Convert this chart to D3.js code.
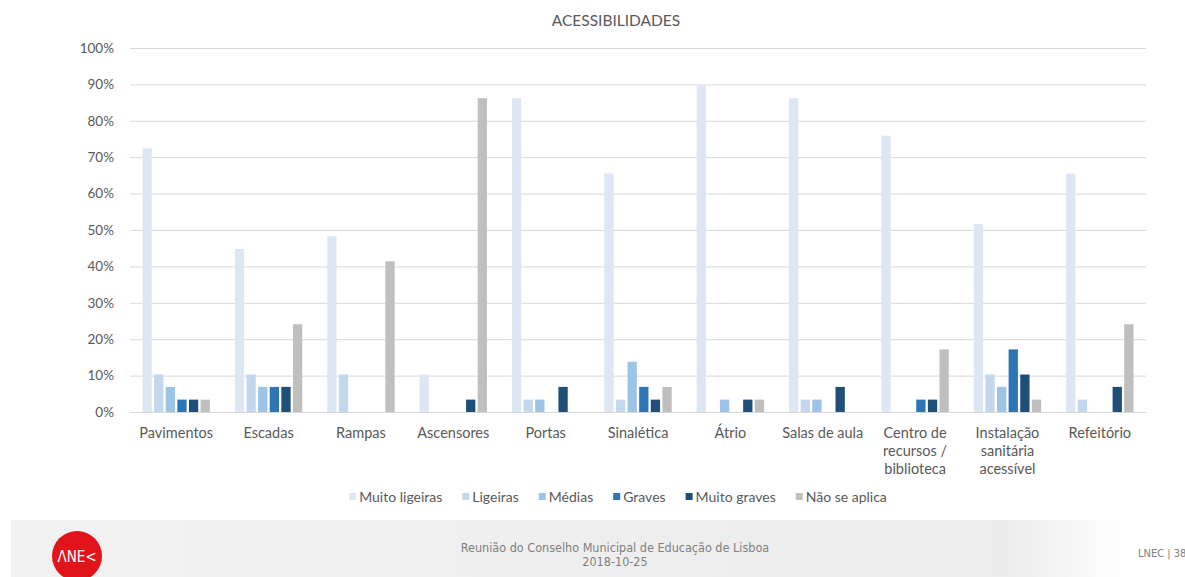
<!DOCTYPE html>
<html>
<head>
<meta charset="utf-8">
<script src="https://cdn.jsdelivr.net/npm/d3@7"></script>
<style>
  html, body { margin: 0; padding: 0; background: #ffffff; }
  svg { display: block; }
</style>
</head>
<body>
<svg id="chart" width="1185" height="577"></svg>
<script>
// ---- data ----
const categories = [
  ["Pavimentos"], ["Escadas"], ["Rampas"], ["Ascensores"], ["Portas"], ["Sinalética"],
  ["Átrio"], ["Salas de aula"], ["Centro de", "recursos /", "biblioteca"],
  ["Instalação", "sanitária", "acessível"], ["Refeitório"]
];
const seriesNames = ["Muito ligeiras", "Ligeiras", "Médias", "Graves", "Muito graves", "Não se aplica"];
const muitoLigeiras = [72.4, 44.8, 48.3, 10.3, 86.2, 65.5, 89.7, 86.2, 75.9, 51.7, 65.5];
const ligeiras      = [10.3, 10.3, 10.3,  0.0,  3.4,  3.4,  0.0,  3.4,  0.0, 10.3,  3.4];
const medias        = [ 6.9,  6.9,  0.0,  0.0,  3.4, 13.8,  3.4,  3.4,  0.0,  6.9,  0.0];
const graves        = [ 3.4,  6.9,  0.0,  0.0,  0.0,  6.9,  0.0,  0.0,  3.4, 17.2,  0.0];
const muitoGraves   = [ 3.4,  6.9,  0.0,  3.4,  6.9,  3.4,  3.4,  6.9,  3.4, 10.3,  6.9];
const naoSeAplica   = [ 3.4, 24.1, 41.4, 86.2,  0.0,  6.9,  3.4,  0.0, 17.2,  3.4, 24.1];
const yTicks = [0, 10, 20, 30, 40, 50, 60, 70, 80, 90, 100];
const chartTitle = "ACESSIBILIDADES";

const seriesValues = [muitoLigeiras, ligeiras, medias, graves, muitoGraves, naoSeAplica];
const colors = ["#dde7f4", "#c3d7ee", "#9dc3e6", "#2e75b6", "#1f4e79", "#bfbfbf"];

// ---- layout ----
const svg = d3.select("#chart");
const plotLeft = 130, plotRight = 1146, plotTop = 48, plotBottom = 412;
const font = "Lato, Carlito, 'Open Sans', sans-serif";
const narrow = "'Liberation Sans Narrow', 'DejaVu Sans Condensed', sans-serif";

const x0 = d3.scaleBand().domain(d3.range(categories.length)).range([plotLeft, plotRight]).paddingInner(0.22).paddingOuter(0.11);
const x1 = d3.scaleBand().domain(d3.range(seriesNames.length)).range([0, x0.bandwidth()]).padding(0.2);
const y = d3.scaleLinear().domain([0, 100]).range([plotBottom, plotTop]);

// title
svg.append("text").attr("x", 616).attr("y", 26).attr("text-anchor", "middle")
  .attr("font-family", font).attr("font-size", 15.5).attr("fill", "#595959").text(chartTitle);

// gridlines + y axis
const yAxis = d3.axisLeft(y).tickValues(yTicks).tickSize(-(plotRight - plotLeft)).tickFormat(d => d + "%");
const gy = svg.append("g").attr("transform", `translate(${plotLeft},0)`).call(yAxis);
gy.select(".domain").remove();
gy.selectAll(".tick line").attr("stroke", "#d9d9d9").attr("stroke-width", 1);
gy.selectAll(".tick text").attr("x", -16).attr("font-family", font).attr("font-size", 13.5).attr("fill", "#595959");

// bars
const groups = svg.append("g").selectAll("g").data(categories).join("g")
  .attr("transform", (d, i) => `translate(${x0(i)},0)`);
groups.selectAll("rect").data((d, i) => seriesValues.map((s, k) => ({k, v: s[i]})))
  .join("rect")
  .attr("x", d => x1(d.k))
  .attr("width", x1.bandwidth())
  .attr("y", d => y(d.v))
  .attr("height", d => y(0) - y(d.v))
  .attr("fill", d => colors[d.k]);

// x axis baseline
svg.append("line").attr("x1", plotLeft).attr("x2", plotRight).attr("y1", plotBottom + 0.5).attr("y2", plotBottom + 0.5)
  .attr("stroke", "#d9d9d9");

// category labels
const xAxis = d3.axisBottom(x0).tickSize(0).tickFormat("");
const gx = svg.append("g").attr("transform", `translate(0,${plotBottom})`).call(xAxis);
gx.select(".domain").remove();
gx.selectAll(".tick").each(function(i) {
  const t = d3.select(this).append("text").attr("font-family", font).attr("font-size", 14.5)
    .attr("fill", "#595959").attr("text-anchor", "middle");
  categories[i].forEach((line, j) => {
    t.append("tspan").attr("x", 0).attr("y", 26 + j * 18).text(line);
  });
});

// legend
const legend = svg.append("g").attr("font-family", font).attr("font-size", 14).attr("fill", "#595959");
const legendItems = [];
seriesNames.forEach((n, k) => {
  const g = legend.append("g");
  g.append("rect").attr("x", 0).attr("y", -9).attr("width", 7).attr("height", 7).attr("fill", colors[k]);
  const t = g.append("text").attr("x", 10).attr("y", 0).text(n);
  const w = t.node().getComputedTextLength() + 10;
  legendItems.push({g, w});
});
const gap = 20;
const total = legendItems.reduce((a, b) => a + b.w, 0) + (legendItems.length - 1) * gap;
let lx = 618 - total / 2;
legendItems.forEach(it => { it.g.attr("transform", `translate(${lx},502)`); lx += it.w + gap; });

// footer
const grad = svg.append("defs").append("linearGradient").attr("id", "fg").attr("x1", 0).attr("x2", 1);
grad.append("stop").attr("offset", 0).attr("stop-color", "#f2f2f2");
grad.append("stop").attr("offset", 0.85).attr("stop-color", "#ececec");
grad.append("stop").attr("offset", 0.95).attr("stop-color", "#ffffff");
svg.append("rect").attr("x", 11).attr("y", 520).attr("width", 1174).attr("height", 57).attr("fill", "url(#fg)");
svg.append("circle").attr("cx", 77).attr("cy", 556).attr("r", 25).attr("fill", "#e2141b");
svg.append("text").attr("x", 77).attr("y", 562).attr("text-anchor", "middle").attr("fill", "#ffffff")
  .attr("font-family", narrow).attr("font-size", 15).text("ΛNE<");
svg.append("text").attr("x", 615).attr("y", 552).attr("text-anchor", "middle").attr("fill", "#808080")
  .attr("font-family", narrow).attr("font-size", 12.5)
  .text("Reunião do Conselho Municipal de Educação de Lisboa");
svg.append("text").attr("x", 615).attr("y", 566).attr("text-anchor", "middle").attr("fill", "#808080")
  .attr("font-family", narrow).attr("font-size", 12.5)
  .text("2018-10-25");
svg.append("text").attr("x", 1138).attr("y", 557).attr("fill", "#808080")
  .attr("font-family", narrow).attr("font-size", 11)
  .text("LNEC | 38");
</script>
</body>
</html>
